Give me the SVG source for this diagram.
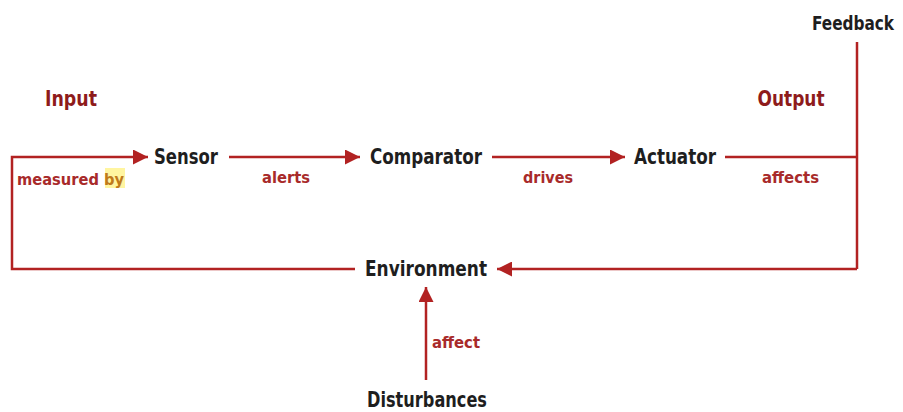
<svg xmlns="http://www.w3.org/2000/svg" width="903" height="412" viewBox="0 0 903 412">
<defs>
<style>
.node{font-family:"DejaVu Sans Condensed","DejaVu Sans",sans-serif;font-stretch:condensed;font-weight:bold;font-size:21px;fill:#1e1e1e;text-anchor:middle;dominant-baseline:central}
.hdr{font-family:"DejaVu Sans Condensed","DejaVu Sans",sans-serif;font-stretch:condensed;font-weight:bold;font-size:21px;fill:#8e1b1b;text-anchor:middle;dominant-baseline:central}
.lbl{font-family:"DejaVu Sans Condensed","DejaVu Sans",sans-serif;font-stretch:condensed;font-weight:bold;font-size:16.5px;fill:#a82a2a;text-anchor:middle;dominant-baseline:central}
.ln{stroke:#b22222;stroke-width:2.5;fill:none}
</style>
<marker id="ah" viewBox="0 0 10 10" refX="10" refY="5" markerWidth="8" markerHeight="6" orient="auto" markerUnits="strokeWidth">
<path d="M0,0 L10,5 L0,10 Z" fill="#b22222"/>
</marker>
</defs>
<rect width="903" height="412" fill="#ffffff"/>
<g id="connectors">
<polyline class="ln" points="355,269 12,269 12,157 148,157" marker-end="url(#ah)"/>
<line class="ln" x1="229" y1="157" x2="360" y2="157" marker-end="url(#ah)"/>
<line class="ln" x1="492" y1="157" x2="625" y2="157" marker-end="url(#ah)"/>
<line class="ln" x1="725" y1="157" x2="857" y2="157"/>
<line class="ln" x1="857" y1="42" x2="857" y2="269"/>
<line class="ln" x1="857" y1="269" x2="497" y2="269" marker-end="url(#ah)"/>
<line class="ln" x1="426" y1="380" x2="426" y2="287" marker-end="url(#ah)"/>
</g>
<g id="labels">
<text class="hdr" x="71" y="99" textLength="52" lengthAdjust="spacingAndGlyphs">Input</text>
<text class="hdr" x="791" y="99" textLength="67" lengthAdjust="spacingAndGlyphs">Output</text>
<rect x="105" y="168" width="20" height="20" fill="#fff5a0"/>
<text class="lbl" x="70.5" y="179" textLength="107" lengthAdjust="spacingAndGlyphs">measured <tspan fill="#c07a1a">by</tspan></text>
<text class="lbl" x="286" y="177" textLength="48" lengthAdjust="spacingAndGlyphs">alerts</text>
<text class="lbl" x="548" y="177" textLength="50" lengthAdjust="spacingAndGlyphs">drives</text>
<text class="lbl" x="790.5" y="177" textLength="57" lengthAdjust="spacingAndGlyphs">affects</text>
<text class="lbl" x="456" y="342" textLength="48" lengthAdjust="spacingAndGlyphs">affect</text>
</g>
<g id="node-feedback"><text class="node" x="853" y="23" font-size="19" style="font-size:19px" textLength="82" lengthAdjust="spacingAndGlyphs">Feedback</text></g>
<g id="node-sensor"><text class="node" x="186" y="157" textLength="64" lengthAdjust="spacingAndGlyphs">Sensor</text></g>
<g id="node-comparator"><text class="node" x="426" y="157" textLength="112" lengthAdjust="spacingAndGlyphs">Comparator</text></g>
<g id="node-actuator"><text class="node" x="675" y="157" textLength="82" lengthAdjust="spacingAndGlyphs">Actuator</text></g>
<g id="node-environment"><text class="node" x="426" y="269" textLength="122" lengthAdjust="spacingAndGlyphs">Environment</text></g>
<g id="node-disturbances"><text class="node" x="427" y="400" textLength="120" lengthAdjust="spacingAndGlyphs">Disturbances</text></g>
</svg>
